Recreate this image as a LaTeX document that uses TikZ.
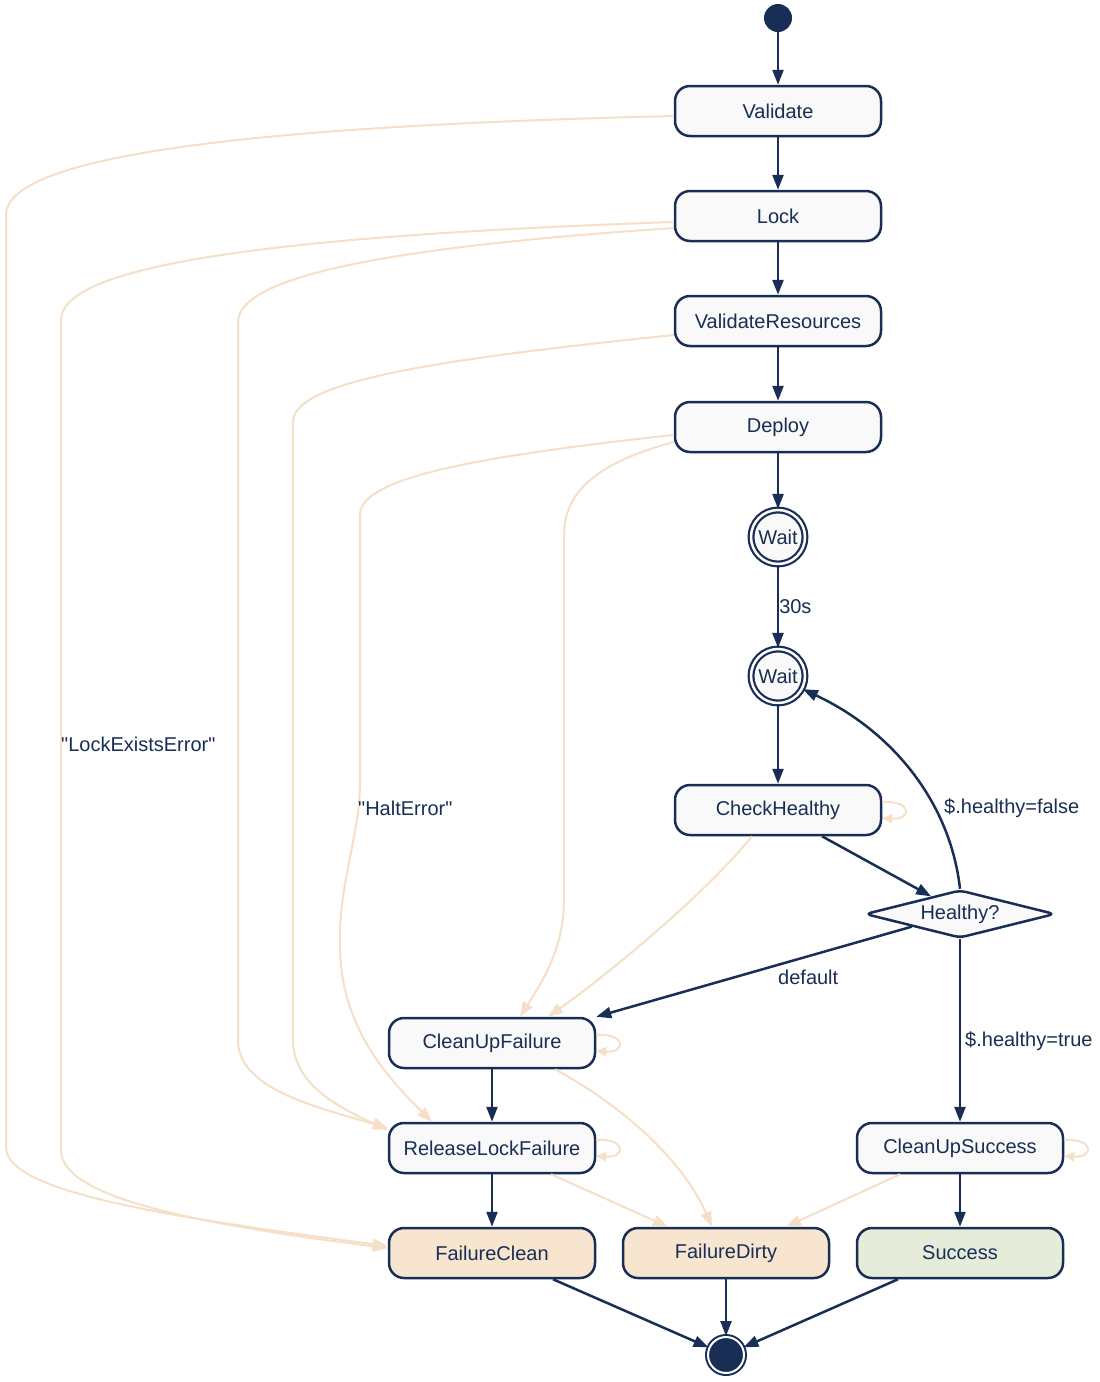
\documentclass[tikz,border=0pt]{standalone}
\usepackage{fontspec}
\newfontfamily\lsans{Liberation Sans}
\usetikzlibrary{arrows.meta,shapes.geometric,calc}
\definecolor{navy}{RGB}{24,46,84}
\definecolor{peach}{RGB}{245,224,199}
\definecolor{boxfill}{RGB}{249,249,250}
\definecolor{failfill}{RGB}{247,229,208}
\definecolor{succfill}{RGB}{229,237,218}
\begin{document}
\begin{tikzpicture}[x=1pt,y=-1pt,
  font=\lsans\fontsize{20}{24}\selectfont, text=navy,
  box/.style={draw=navy, line width=2.5pt, rounded corners=15pt, minimum width=206pt, minimum height=50pt, fill=boxfill, inner sep=0pt},
  waitnode/.style={circle, draw=navy, double=white, line width=2.2pt, double distance=2.5pt, fill=boxfill, minimum size=54pt, inner sep=0pt},
  darr/.style={draw=navy, line width=2.5pt, -{Triangle[length=15pt,width=11pt]}},
  larr/.style={draw=peach, line width=2pt, -{Triangle[length=15pt,width=11pt]}},
  loop/.style={draw=peach, line width=2pt, -{Triangle[length=10pt,width=9pt]}},
  lbl/.style={text=navy, inner sep=0pt}]
\fill[white] (0,0) rectangle (1100,1382);
\useasboundingbox (0,0) rectangle (1100,1382);

% nodes
\node[circle, fill=navy, minimum size=28pt, inner sep=0pt] (S0) at (778,18) {};
\node[box] (V) at (778,111) {Validate};
\node[box] (L) at (778,216) {Lock};
\node[box] (VR) at (778,321) {ValidateResources};
\node[box] (D) at (778,427) {Deploy};
\node[waitnode] (W1) at (778,537) {Wait};
\node[waitnode] (W2) at (778,676) {Wait};
\node[box] (CH) at (778,810) {CheckHealthy};
\node[diamond, draw=navy, line width=2.5pt, fill=boxfill, aspect=4, minimum width=190pt, minimum height=48pt, inner sep=0pt, rounded corners=6pt] (H) at (960,914) {Healthy?};
\node[box] (CUF) at (492,1043) {CleanUpFailure};
\node[box] (RLF) at (492,1148) {ReleaseLockFailure};
\node[box] (CUS) at (960,1148) {CleanUpSuccess};
\node[box, fill=failfill] (FC) at (492,1253) {FailureClean};
\node[box, fill=failfill] (FD) at (726,1253) {FailureDirty};
\node[box, fill=succfill] (SU) at (960,1253) {Success};
\node[circle, fill=navy, draw=navy, double=white, line width=2pt, double distance=2pt, minimum size=36pt, inner sep=0pt] (E) at (726,1355) {};

% light (failure) edges
\draw[larr] ([yshift=-5pt]V.west) .. controls (300,125) and (6,150) .. (6,215) -- (6,1147) .. controls (6,1190) and (150,1215) .. ([yshift=7pt]FC.west);
\draw[larr] ([yshift=-6pt]L.west) .. controls (300,235) and (61,262) .. (61,320) -- (61,1150) .. controls (61,1195) and (180,1222) .. ([yshift=5pt]FC.west);
\draw[larr] ([yshift=-12pt]L.west) .. controls (420,245) and (238,272) .. (238,322) -- (238,1040) .. controls (238,1090) and (320,1108) .. ([yshift=20pt]RLF.west);
\draw[larr] ([yshift=-14pt]VR.west) .. controls (430,360) and (293,382) .. (293,422) -- (293,1040) .. controls (293,1085) and (340,1108) .. ([yshift=18pt]RLF.west);
\draw[larr] ([yshift=-8pt]D.west) .. controls (460,458) and (360,480) .. (360,515) -- (360,780) .. controls (360,840) and (338,880) .. (340,950) .. controls (342,1030) and (390,1080) .. ([xshift=-60pt]RLF.north);
\draw[larr] ([yshift=-15pt]D.west) .. controls (600,462) and (564,490) .. (564,535) -- (564,900) .. controls (564,950) and (540,985) .. ([xshift=28pt]CUF.north);
\draw[larr] ([xshift=-26pt]CH.south) .. controls (700,900) and (600,980) .. ([xshift=56pt]CUF.north);
\draw[larr] ([xshift=63pt]CUF.south) .. controls (630,1110) and (685,1165) .. ([xshift=-14pt]FD.north);
\draw[larr] ([xshift=59pt]RLF.south) -- ([xshift=-58pt]FD.north);
\draw[larr] ([xshift=-60pt]CUS.south) -- ([xshift=60pt]FD.north);

% self loops
\draw[loop] ([yshift=8pt]CH.east) .. controls +(30,-2) and +(30,2) .. ([yshift=-8pt]CH.east);
\draw[loop] ([yshift=8pt]CUF.east) .. controls +(30,-2) and +(30,2) .. ([yshift=-8pt]CUF.east);
\draw[loop] ([yshift=8pt]RLF.east) .. controls +(30,-2) and +(30,2) .. ([yshift=-8pt]RLF.east);
\draw[loop] ([yshift=8pt]CUS.east) .. controls +(30,-2) and +(30,2) .. ([yshift=-8pt]CUS.east);

% dark edges
\draw[darr] (S0) -- (V);
\draw[darr] (V) -- (L);
\draw[darr] (L) -- (VR);
\draw[darr] (VR) -- (D);
\draw[darr] (D) -- (W1);
\draw[darr] (W1) -- node[lbl, anchor=west] (l30) {30s} (W2);
\draw[darr] (W2) -- (CH);
\draw[darr] ([xshift=44pt]CH.south) -- ($(H.north)!0.3!(H.west)$);
\draw[darr] (H.north) .. controls (950,800) and (890,730) .. (W2.-28);
\draw[darr] ($(H.south)!0.5!(H.west)$) -- (CUF.north east);
\draw[darr] (H.south) -- (CUS.north);
\draw[darr] (CUF) -- (RLF);
\draw[darr] (RLF) -- (FC);
\draw[darr] (CUS) -- (SU);
\draw[darr] ([xshift=61pt]FC.south) -- (E);
\draw[darr] (FD) -- (E);
\draw[darr] ([xshift=-62pt]SU.south) -- (E);

% labels
\node[lbl, anchor=west] (lLock) at (61,744) {"LockExistsError"};
\node[lbl, anchor=west] (lHalt) at (358,808) {"HaltError"};
\node[lbl, anchor=west] (lFalse) at (944,808) {\$.healthy=false};
\node[lbl, anchor=west] (lDef) at (778,977) {default};
\node[lbl, anchor=west] (lTrue) at (965,1041) {\$.healthy=true};
\end{tikzpicture}
\end{document}
